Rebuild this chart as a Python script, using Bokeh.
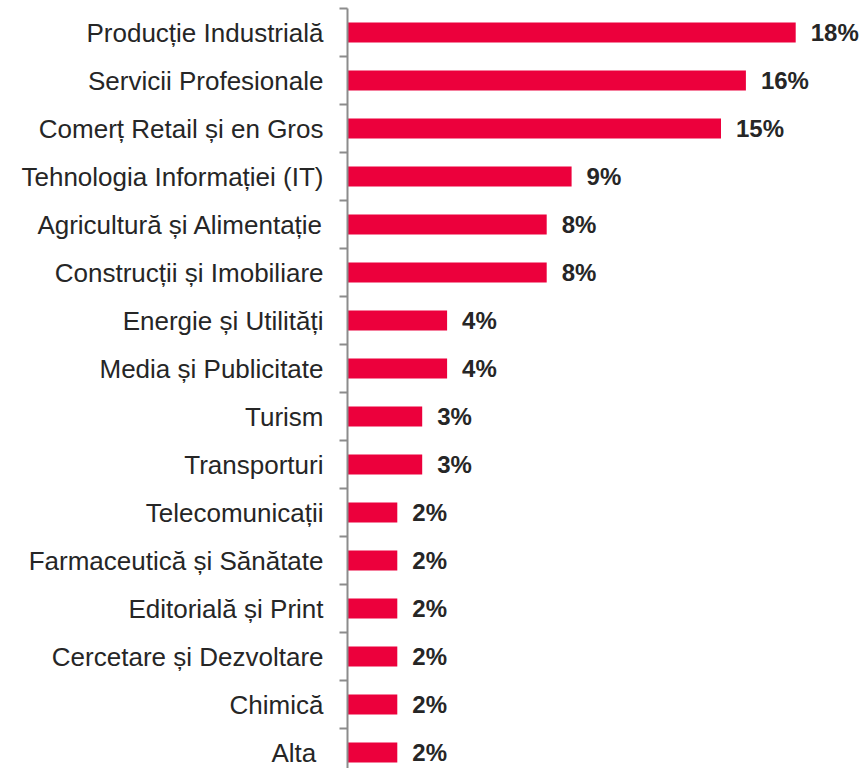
from bokeh.plotting import figure
from bokeh.models import FixedTicker, Range1d, ColumnDataSource
from bokeh.core.properties import value
from bokeh.embed import file_html
from bokeh.resources import INLINE

categories = [
    "Producție Industrială",
    "Servicii Profesionale",
    "Comerț Retail și en Gros",
    "Tehnologia Informației (IT)",
    "Agricultură și Alimentație",
    "Construcții și Imobiliare",
    "Energie și Utilități",
    "Media și Publicitate",
    "Turism",
    "Transporturi",
    "Telecomunicații",
    "Farmaceutică și Sănătate",
    "Editorială și Print",
    "Cercetare și Dezvoltare",
    "Chimică",
    "Alta ",
]
shares = [18, 16, 15, 9, 8, 8, 4, 4, 3, 3, 2, 2, 2, 2, 2, 2]

n = len(categories)
ypos = [n - i - 0.5 for i in range(n)]
labels = [f"{v}%" for v in shares]

src = ColumnDataSource(dict(y=ypos, v=shares, lab=labels, cat=categories))

W, H = 860, 768
left, top = 347, 8
unit = 48.0
pxper = 24.9

p = figure(width=W, height=H, output_backend="svg", toolbar_location=None,
           x_axis_location=None, x_range=Range1d(0, (W - left) / pxper),
           y_range=Range1d(n - (H - top) / unit, n),
           min_border_left=left, min_border_right=0, min_border_top=top, min_border_bottom=0)
p.outline_line_color = None
p.xgrid.visible = False
p.ygrid.visible = False
p.background_fill_color = "white"
p.border_fill_color = "white"

p.hbar(y="y", right="v", left=0, height=20 / unit, source=src,
       fill_color="#EC003C", line_color=None)
p.text(x="v", y="y", text="lab", source=src, x_offset=15,
       text_baseline="middle", text_align="left",
       text_font=value("Liberation Sans"), text_font_style="bold",
       text_font_size="24px", text_color="#262626")

ax = p.yaxis[0]
ax.ticker = FixedTicker(ticks=ypos, minor_ticks=list(range(1, n + 1)))
ax.major_label_overrides = {y: c for y, c in zip(ypos, categories)}
ax.major_tick_out = 0
ax.major_tick_in = 0
ax.minor_tick_out = 8
ax.minor_tick_in = 0
ax.minor_tick_line_color = "#8c8c8c"
ax.minor_tick_line_width = 2
ax.axis_line_color = "#8c8c8c"
ax.axis_line_width = 2
ax.major_label_standoff = 16
ax.major_label_text_font = "Liberation Sans"
ax.major_label_text_font_size = "26px"
ax.major_label_text_color = "#262626"

open("out.html", "w").write(file_html(p, INLINE))
